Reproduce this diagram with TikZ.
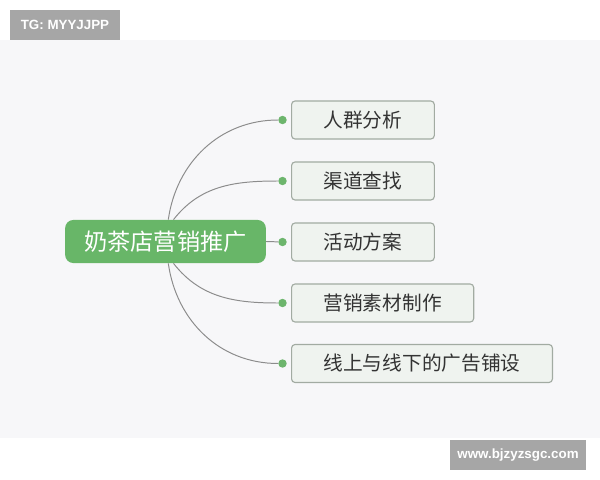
\documentclass[tikz,border=0pt]{standalone}
\usepackage{fontspec}
\newfontfamily\cjk{Noto Sans CJK SC}
\setsansfont{Liberation Sans}
\usetikzlibrary{positioning}

\definecolor{hubgreen}{HTML}{68B668}
\definecolor{dotgreen}{HTML}{6DB56D}
\definecolor{boxfill}{HTML}{EFF3EF}
\definecolor{boxline}{HTML}{A2ABA2}
\definecolor{panel}{HTML}{F7F7F9}
\definecolor{tag}{HTML}{A6A6A6}
\definecolor{branchgray}{HTML}{8C8C8C}

\tikzset{
	topic/.style={draw=boxline, fill=boxfill, rounded corners=2.5pt, line width=0.8pt,
		minimum height=0.95cm, inner xsep=0.8cm, anchor=west, font=\cjk\fontsize{14}{16}\selectfont, text=black!80},
	hubbox/.style={fill=hubgreen, rounded corners=6pt, minimum height=1.08cm, inner xsep=0.48cm,
		font=\cjk\fontsize{16.5}{18}\selectfont, text=white},
	knob/.style={circle, fill=dotgreen, inner sep=0pt, minimum size=0.21cm},
	branch/.style={draw=branchgray, line width=0.7pt},
	tagbox/.style={fill=tag, text=white, font=\sffamily\bfseries\fontsize{9.5}{11}\selectfont, inner sep=0pt}
}

\begin{document}
\begin{tikzpicture}[x=0.025cm, y=-0.025cm]
		%canvas
		\useasboundingbox (0,0) rectangle (600,480);
		\fill[white] (0,0) rectangle (600,480);
		\fill[panel] (0,40) rectangle (600,438);
		
		%watermarks
		\node[tagbox, minimum width=2.75cm, minimum height=0.75cm] (tgtag) at (65,25) {TG: MYYJJPP};
		\node[tagbox, minimum width=3.4cm, minimum height=0.75cm] (webtag) at (518,455) {www.bjzyzsgc.com};
		
		%central topic
		\node[hubbox] (hub) at (165.5,241.5) {奶茶店营销推广};
		
		%topics
		\node[topic] (crowd) at (291,120) {人群分析};
		\node[topic] (channel) at (291,181) {渠道查找};
		\node[topic] (event) at (291,242) {活动方案};
		\node[topic] (material) at (291,303) {营销素材制作};
		\node[topic] (adverts) at (291,363.5) {线上与线下的广告铺设};
		
		%knobs
		\node[knob, left=0.1cm of crowd] (kcrowd) {};
		\node[knob, left=0.1cm of channel] (kchannel) {};
		\node[knob, left=0.1cm of event] (kevent) {};
		\node[knob, left=0.1cm of material] (kmaterial) {};
		\node[knob, left=0.1cm of adverts] (kadverts) {};
		
		%branches
		\draw[branch] ([xshift=0.07cm]hub.north) to[out=82, in=180] (kcrowd);
		\draw[branch] ([xshift=0.2cm]hub.north) to[out=52, in=180] (kchannel);
		\draw[branch] (hub.east) -- (kevent);
		\draw[branch] ([xshift=0.2cm]hub.south) to[out=-52, in=180] (kmaterial);
		\draw[branch] ([xshift=0.07cm]hub.south) to[out=-82, in=180] (kadverts);
\end{tikzpicture}
\end{document}
